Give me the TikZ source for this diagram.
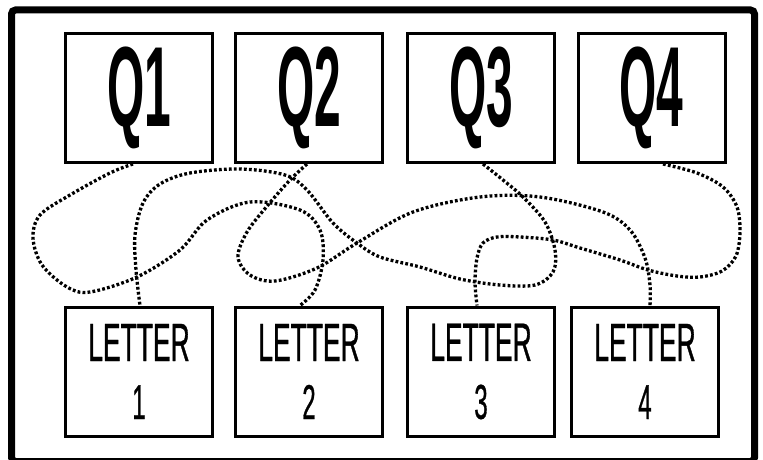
\documentclass[tikz,border=0pt]{standalone}
\usepackage{fontspec}
\setmainfont{Liberation Sans}
\newfontfamily\qfont{Liberation Sans}[FakeStretch=0.42]
\newfontfamily\lfont{Liberation Sans}[FakeStretch=0.49,FakeBold=0.6]
\begin{document}
\begin{tikzpicture}[x=1pt,y=-1pt,
  qbox/.style={draw, line width=3pt, minimum width=147pt, minimum height=129pt, inner sep=0pt,
    font=\qfont\bfseries\fontsize{114}{114}\selectfont},
  lbox/.style={draw, line width=3pt, minimum width=147pt, minimum height=129pt, inner sep=0pt,
    align=center, font=\lfont\fontsize{54}{58}\selectfont},
  conn/.style={line width=3.3pt, dash pattern=on 2.8pt off 2.2pt, line cap=butt},
  frame/.style={line width=7pt, rounded corners=4pt}]
\useasboundingbox (0,0) rectangle (763,460);
\draw[frame] (11.5,10) rectangle (754.5,461.5);

\node[qbox] (q1) at (139,98) {Q1};
\node[qbox] (q2) at (309,98) {Q2};
\node[qbox] (q3) at (481,98) {Q3};
\node[qbox] (q4) at (651.5,98) {Q4};

\node[lbox] (l1) at (139,371.5) {LETTER\\{\fontsize{49}{58}\selectfont 1}};
\node[lbox] (l2) at (309,371.5) {LETTER\\{\fontsize{49}{58}\selectfont 2}};
\node[lbox] (l3) at (481,371.5) {LETTER\\{\fontsize{49}{58}\selectfont 3}};
\node[lbox] (l4) at (645,371.5) {LETTER\\{\fontsize{49}{58}\selectfont 4}};

\coordinate (s1) at ([xshift=-6pt]q1.south);
\coordinate (e1) at ([xshift=-9pt]l2.north);
\coordinate (s2) at ([xshift=-2pt]q2.south);
\coordinate (e2) at ([xshift=5pt]l4.north);
\coordinate (s3) at ([xshift=2pt]q3.south);
\coordinate (e3) at ([xshift=1pt]l1.north);
\coordinate (s4) at ([xshift=11.5pt]q4.south);
\coordinate (e4) at ([xshift=-4pt]l3.north);

\draw[conn] plot[smooth, tension=0.55] coordinates {(s1) (110,173) (70,195) (40,215) (33,238) (42,265) (67,287) (90,292) (137,277) (180,250) (207,220) (250,202) (300,210) (320,230) (323,260) (315,290) (e1)};
\draw[conn] plot[smooth, tension=0.55] coordinates {(s2) (290,180) (268,205) (247,232) (238,257) (250,275) (275,281) (317,268) (357,243) (413,212) (480,197) (540,197) (603,212) (630,230) (645,258) (650,285) (e2)};
\draw[conn] plot[smooth, tension=0.55] coordinates {(s3) (503,180) (523,197) (545,222) (555,250) (553,272) (535,285) (500,285) (460,279) (420,267) (380,257) (357,243) (333,223) (307,190) (285,175) (240,169) (190,173) (160,184) (143,203) (135,235) (136,270) (e3)};
\draw[conn] plot[smooth, tension=0.55] coordinates {(s4) (697,173) (723,187) (737,207) (740,232) (736,256) (722,271) (700,277) (677,276) (648,270) (620,260) (580,248) (553,240) (520,237) (497,237) (483,243) (477,258) (475,282) (e4)};
\end{tikzpicture}
\end{document}
